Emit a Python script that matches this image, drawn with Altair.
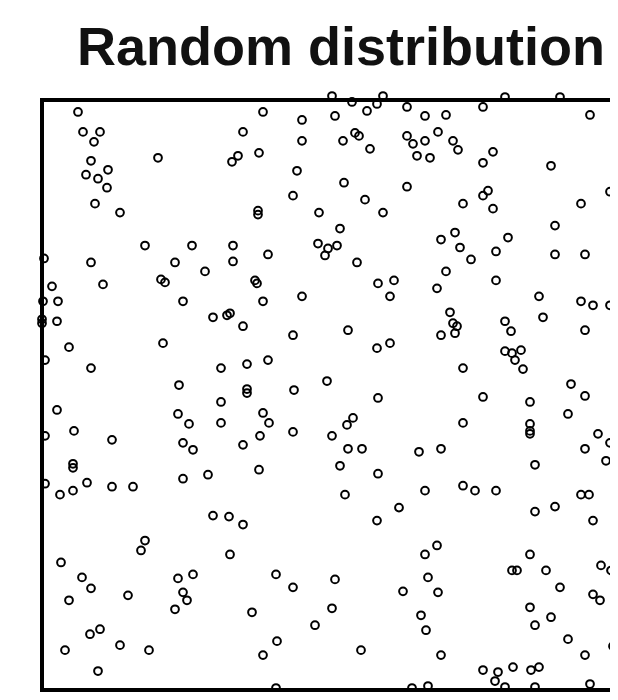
import altair as alt
import pandas as pd

# Point positions (arbitrary units, x 0..598, y 0..592)
xs = [
    36, 41, 58, 52, 116, 49, 66, 44, 56, 65, 53, 78, 103, 150, 2, 49, 133, 163, 119, 123, 10, 61,
    221, 260, 290, 293, 310, 325, 335, 341, 365, 201, 260, 301, 313, 317, 328, 365, 371, 190, 196,
    217, 255, 302, 365, 251, 323, 216, 216, 277, 341, 298, 276, 286, 283, 295, 191, 191, 226, 315,
    213, 215, 336, 352, 348,
    463, 518, 441, 383, 404, 548, 396, 383, 411, 416, 388, 375, 451, 441, 509, 568, 446, 441, 451,
    421, 539, 513, 574, 399, 413, 418, 429, 466, 454, 513, 543, 404, 454, 395, 573,
    1, 16, 0, 0, 15, 141, 171, 185, 121, 27, 3, 49, 179, 137, 179, 15, 136, 147, 179, 32, 3, 70,
    141, 151, 31, 31, 166, 141, 3, 45, 31, 18, 70, 91,
    221, 260, 188, 201, 251, 306, 335, 348, 205, 226, 285, 205, 205, 252, 336, 221, 227, 218, 201,
    251, 305, 311, 290, 306, 320, 298, 377, 217, 336,
    497, 539, 551, 568, 501, 408, 411, 415, 399, 413, 463, 469, 543, 463, 479, 473, 481, 470, 421,
    529, 543, 441, 488, 526, 421, 488, 488, 488, 556, 543, 568, 564, 399, 493, 421, 433, 454,
    383, 539, 547, 493, 513, 551, 383, 395, 488, 470, 475, 504, 559, 569, 386, 396, 518, 551, 558,
    488, 493, 509, 379, 384, 526, 543, 571, 399, 441, 456, 471, 453, 463, 489, 497, 493, 386, 548,
    303, 357, 335, 171, 187, 201, 188, 234, 251, 293, 361, 210, 290, 273, 235, 221, 319, 234, 370,
    103, 99, 19, 40, 49, 27, 86, 136, 151, 141, 145, 133, 48, 58, 23, 78, 107, 56,
]
ys = [
    580, 560, 560, 550, 534, 531, 522, 517, 513, 504, 488, 479, 446, 446, 433, 429, 429, 420, 412, 409, 405, 407,
    580, 572, 596, 576, 590, 581, 588, 596, 585, 560, 551, 551, 559, 556, 543, 556, 548, 530, 536,
    539, 521, 509, 505, 496, 492, 481, 477, 479, 479, 463, 448, 443, 436, 446, 446, 430, 437, 429,
    411, 408, 408, 411, 395,
    595, 595, 585, 576, 577, 577, 560, 551, 551, 542, 534, 536, 540, 529, 526, 500, 501, 496, 483,
    488, 488, 466, 466, 452, 459, 444, 432, 454, 440, 437, 437, 420, 411, 403, 407,
    390, 390, 372, 368, 370, 390, 374, 376, 348, 344, 331, 323, 323, 306, 289, 281, 277, 267, 268, 260, 255, 251,
    248, 241, 227, 223, 216, 212, 207, 208, 200, 196, 204, 204,
    390, 395, 378, 365, 356, 361, 343, 348, 327, 331, 310, 302, 298, 301, 293, 278, 268, 255, 246,
    259, 266, 273, 255, 242, 242, 225, 239, 221, 217,
    395, 390, 386, 386, 374, 379, 368, 365, 356, 358, 370, 360, 361, 340, 341, 331, 322, 338, 323,
    307, 295, 294, 289, 277, 268, 267, 260, 257, 257, 242, 248, 230, 242, 226, 205, 200, 200,
    200, 196, 196, 179, 184, 170, 136, 145, 136, 120, 120, 120, 125, 120, 113, 98, 103, 96, 90,
    83, 65, 73, 75, 60, 51, 35, 44, 35, 20, 18, 23, 9, 3, 20, 23, 3, 4, 6,
    196, 183, 170, 175, 174, 166, 136, 116, 103, 111, 99, 78, 82, 65, 49, 35, 40, 2, 2,
    150, 140, 128, 113, 102, 90, 95, 112, 116, 98, 90, 81, 56, 61, 40, 45, 40, 19,
]

df = pd.DataFrame({"x": xs, "y": ys})

W = 568   # visible part of the plot frame (its right edge lies beyond the picture)
H = 590

base = alt.Chart(df)

points = base.mark_point(
    shape="circle", filled=False, color="black", strokeWidth=2, size=60, opacity=1
).encode(
    x=alt.X("x:Q", scale=alt.Scale(domain=[0, 568], nice=False, zero=False), axis=None),
    y=alt.Y("y:Q", scale=alt.Scale(domain=[0, 592], nice=False, zero=False), axis=None),
)

frame_left = base.mark_rule(color="black", strokeWidth=3).encode(
    x=alt.value(0), y=alt.value(-1.5), y2=alt.value(H + 1.5)
)
frame_top = base.mark_rule(color="black", strokeWidth=3).encode(
    x=alt.value(-1.5), x2=alt.value(W + 40), y=alt.value(0)
)
frame_bottom = base.mark_rule(color="black", strokeWidth=3).encode(
    x=alt.value(-1.5), x2=alt.value(W + 40), y=alt.value(H)
)

chart = (
    alt.layer(frame_left, frame_top, frame_bottom, points)
    .properties(
        width=W,
        height=H,
        title=alt.TitleParams(
            "Random distribution",
            font="Liberation Sans",
            fontSize=54,
            fontWeight="bold",
            color="#111111",
            anchor="middle",
            baseline="alphabetic",
            offset=20,
            dx=15,
            dy=51,
        ),
        autosize=alt.AutoSizeParams(type="none"),
        padding={"left": 34, "top": 92, "right": 0, "bottom": 2},
        background="white",
    )
    .configure_view(strokeWidth=0)
)

chart.save("out.html", embed_options={"renderer": "svg", "actions": False})
